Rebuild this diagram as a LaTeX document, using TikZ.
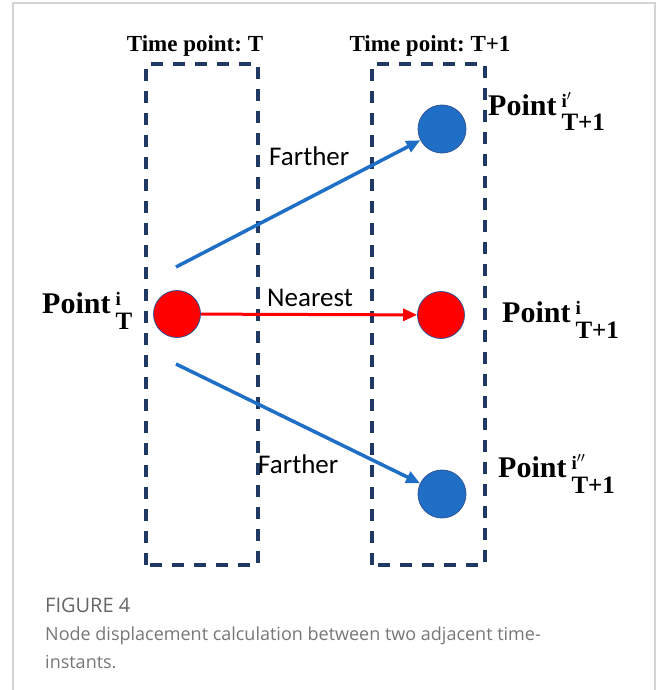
\documentclass[tikz,border=0pt]{standalone}
\usepackage{fontspec}
\setmainfont{Liberation Serif}
\newfontfamily\lblfont{Carlito}
\newfontfamily\capfont{Open Sans}
\usetikzlibrary{arrows.meta}
\definecolor{navy}{HTML}{1F3864}
\definecolor{ptblue}{HTML}{1F6FC6}
\definecolor{ptedge}{HTML}{2F5597}
\definecolor{framegray}{HTML}{D4D4D4}
\definecolor{capgray}{HTML}{777777}
\definecolor{figgray}{HTML}{666666}
\frenchspacing
\newcommand{\ptlabel}[2]{\fontsize{30}{30}\selectfont\bfseries Point\kern5pt\rlap{\raisebox{8pt}{\fontsize{19}{19}\selectfont #1}}\raisebox{-16pt}{\fontsize{25}{25}\selectfont #2}}
\begin{document}
\begin{tikzpicture}[x=1pt,y=-1pt,
  timebox/.style={draw=navy,line width=3.5pt,dash pattern=on 12pt off 10pt},
  redpt/.style={circle,fill=red,draw=ptedge,line width=0.8pt,minimum size=47pt,inner sep=0pt},
  bluept/.style={circle,fill=ptblue,draw=ptedge,line width=0.8pt,minimum size=48pt,inner sep=0pt},
  bluearrow/.style={draw=ptblue,line width=3.5pt,-{Triangle[length=14pt,width=12pt]}},
  redarrow/.style={draw=red,line width=3pt,-{Triangle[length=14pt,width=12pt]}},
  lbl/.style={font=\lblfont\fontsize{27}{27}\selectfont,inner sep=0pt,anchor=base west},
  ttl/.style={font=\fontsize{23}{23}\selectfont\bfseries,inner sep=0pt,anchor=base},
  plbl/.style={inner sep=0pt,anchor=base west},
  captxt/.style={font=\capfont\fontsize{18}{18}\selectfont,text=capgray,inner sep=0pt,anchor=base west},
  figtxt/.style={font=\capfont\fontsize{20}{20}\selectfont,text=figgray,inner sep=0pt,anchor=base west}]
\useasboundingbox (0,0) rectangle (656,690);
\fill[white] (0,0) rectangle (656,690);
% frame
\draw[framegray,line width=1.5pt] (13,690) -- (13,3) -- (655,3) -- (655,690);
% dashed boxes
\draw[timebox] (146,565) -- (146,64) -- (258,64) -- (258,565) -- cycle;
\draw[timebox] (372,565) -- (372,64) -- (485,64) -- (485,565) -- cycle;
\node[ttl] (tT) at (195,52) {Time point: T};
\node[ttl] (tT1) at (430,52) {Time point: T+1};
% points
\node[redpt] (pT) at (177,314) {};
\node[redpt] (pN) at (441,315) {};
\node[bluept] (pU) at (442,129) {};
\node[bluept] (pD) at (442,494) {};
\coordinate (sU) at (176,267);
\coordinate (sD) at (176,364);
\draw[bluearrow] (sU) -- (pU);
\draw[bluearrow] (sD) -- (pD);
\draw[redarrow] (pT) -- (pN);
\node[lbl] (fU) at (269,165) {Farther};
\node[lbl] (nr) at (267,306) {Nearest};
\node[lbl] (fD) at (258,473) {Farther};
% point labels
\node[plbl] (lT) at (42,313) {\ptlabel{i}{T}};
\node[plbl] (lU) at (488,115) {\ptlabel{i$'$}{T+1}};
\node[plbl] (lN) at (502,322) {\ptlabel{i}{T+1}};
\node[plbl] (lD) at (498,477) {\ptlabel{i$''$}{T+1}};
% caption
\node[figtxt] (fig) at (45,612) {FIGURE 4};
\node[captxt] (c1) at (45,640) {Node displacement calculation between two adjacent time-};
\node[captxt] (c2) at (45,668) {instants.};
\end{tikzpicture}
\end{document}
